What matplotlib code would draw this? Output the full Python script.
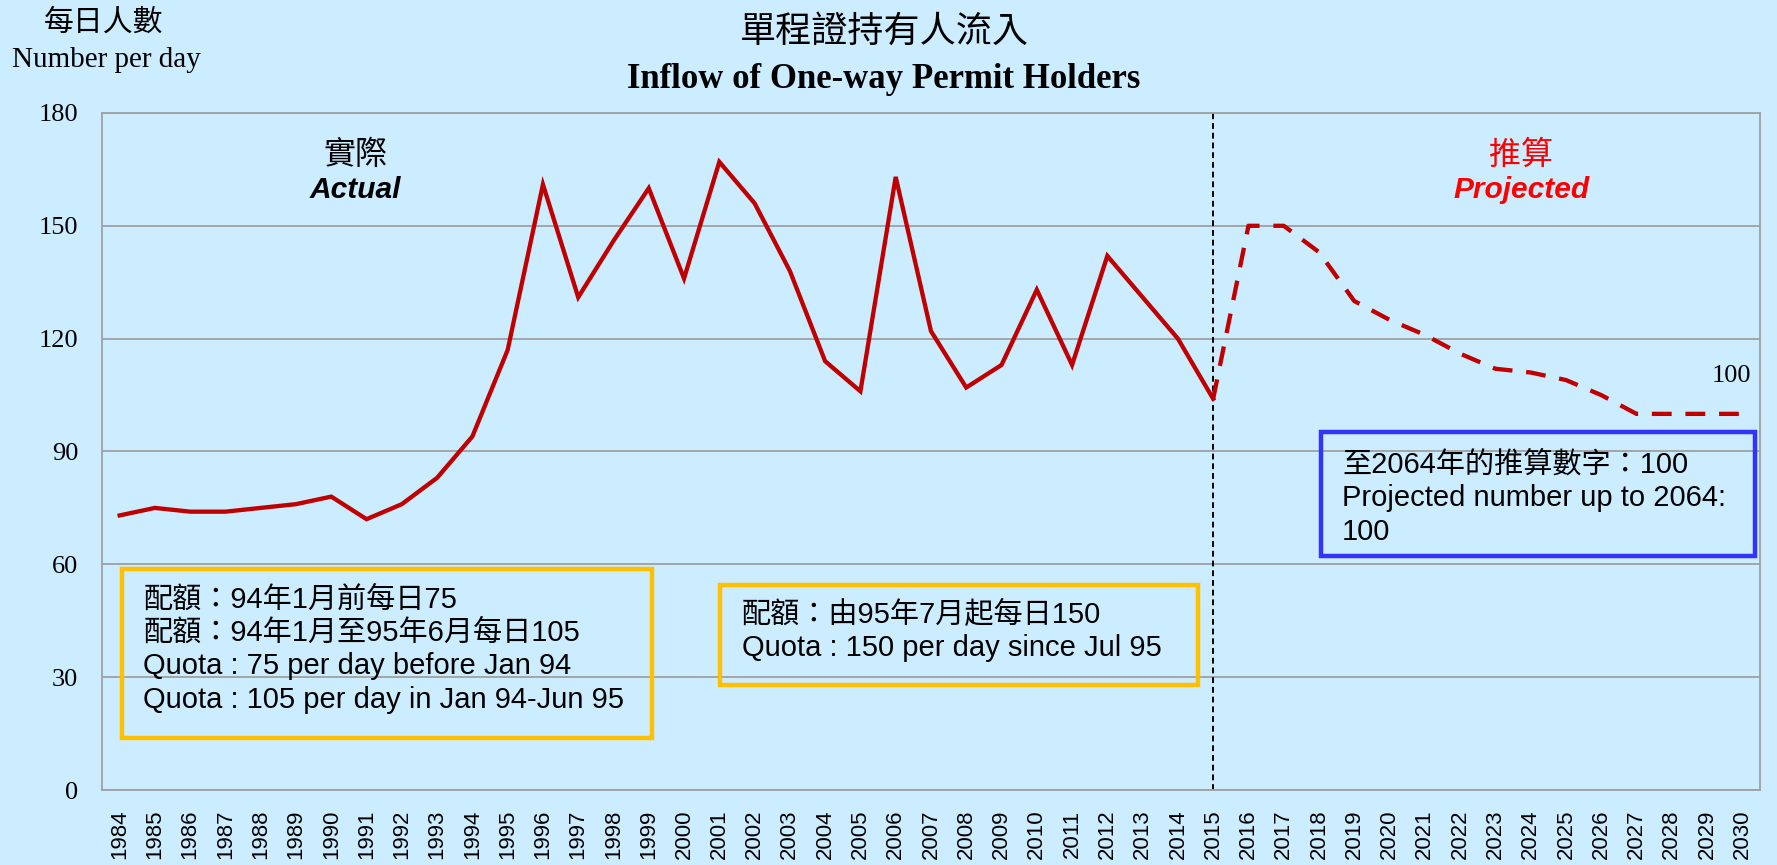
import matplotlib
matplotlib.use("Agg")
import matplotlib.pyplot as plt
from matplotlib.patches import Rectangle

# datos
anios = [str(a) for a in range(1984, 2031)]
actual = [73, 75, 74, 74, 75, 76, 78, 72, 76, 83, 94, 117, 161, 131, 146, 160,
          136, 167, 156, 138, 114, 106, 163, 122, 107, 113, 133, 113, 142, 131,
          120, 104]
proyectado = [104, 150, 150, 143, 130, 125, 121, 116, 112, 111, 109, 105,
              100, 100, 100, 100]
y_ticks = [0, 30, 60, 90, 120, 150, 180]

FONDO = "#CCECFF"
ROJO = "#C00000"
SERIF = ["Liberation Serif", "Noto Sans CJK TC"]
SANS = ["Liberation Sans", "Noto Sans CJK TC"]
CJK = ["Noto Sans CJK TC", "Liberation Sans"]

fig = plt.figure(figsize=(17.77, 8.65), dpi=100, facecolor=FONDO)
ax = fig.add_axes([0.0574, 0.0867, 0.9330, 0.7827])
ax.set_facecolor(FONDO)

x_act = list(range(len(actual)))
i0 = len(actual) - 1
x_proj = list(range(i0, i0 + len(proyectado)))

ax.plot(x_act, actual, color=ROJO, lw=3.1, solid_joinstyle="miter", zorder=3)
ax.plot(x_proj, proyectado, color=ROJO, lw=3.1, dashes=(4.6, 3.2), zorder=3)
ax.axvline(i0, color="black", lw=1.4, dashes=(3, 2), zorder=2)

ax.set_xlim(-0.5, len(anios) - 0.5)
ax.set_ylim(0, 180)
ax.set_yticks(y_ticks)
ax.set_yticklabels([str(v) for v in y_ticks], family=SERIF, fontsize=19)
ax.set_xticks(range(len(anios)))
ax.set_xticklabels(anios, rotation=90, family=SANS, fontsize=16)
ax.tick_params(length=0)
ax.tick_params(axis="y", pad=17)
ax.tick_params(axis="x", pad=14)
ax.grid(axis="y", color="#A0A0A0", lw=1.3)
ax.set_axisbelow(True)
for s in ax.spines.values():
    s.set_color("#A0A0A0")
    s.set_linewidth(1.3)

# titulos
fig.text(0.4975, 0.963, "單程證持有人流入", family=CJK, fontsize=26,
         ha="center", va="center")
fig.text(0.4975, 0.908, "Inflow of One-way Permit Holders", family=SERIF,
         fontsize=25, fontweight="bold", ha="center", va="center")
fig.text(0.0585, 0.974, "每日人數", family=CJK, fontsize=21.5, ha="center", va="center")
fig.text(0.0599, 0.931, "Number per day", family=SERIF, fontsize=21,
         ha="center", va="center")

# etiquetas de zona
ax.text(0.153, 0.938, "實際", transform=ax.transAxes, family=CJK, fontsize=23,
        style="italic", ha="center", va="center")
ax.text(0.153, 0.886, "Actual", transform=ax.transAxes, family=SANS, fontsize=21.5,
        style="italic", fontweight="bold", ha="center", va="center")
ax.text(0.856, 0.938, "推算", transform=ax.transAxes, family=CJK, fontsize=23,
        style="italic", color="red", ha="center", va="center")
ax.text(0.856, 0.886, "Projected", transform=ax.transAxes, family=SANS,
        fontsize=21.5, style="italic", fontweight="bold", color="red",
        ha="center", va="center")
ax.text(x_proj[-1] - 0.3, proyectado[-1] + 10, str(proyectado[-1]),
        family=SERIF, fontsize=19, ha="center", va="center")

# cajas de anotacion
cajas = [
    ((0.012, 0.077), 0.320, 0.249, "#FFC000"),
    ((0.373, 0.155), 0.288, 0.148, "#FFC000"),
    ((0.735, 0.346), 0.262, 0.183, "#3333FF"),
]
for (x0, y0), w, h, c in cajas:
    ax.add_patch(Rectangle((x0, y0), w, h, transform=ax.transAxes, fill=False,
                           edgecolor=c, lw=3.2, zorder=4, clip_on=False))

ax.text(0.025, 0.207,
        "配額：94年1月前每日75\n配額：94年1月至95年6月每日105\n"
        "Quota : 75 per day before Jan 94\nQuota : 105 per day in Jan 94-Jun 95",
        transform=ax.transAxes, family=SANS, fontsize=21, linespacing=1.24,
        ha="left", va="center", zorder=5)
ax.text(0.386, 0.234, "配額：由95年7月起每日150\nQuota : 150 per day since Jul 95",
        transform=ax.transAxes, family=SANS, fontsize=21, linespacing=1.24,
        ha="left", va="center", zorder=5)
ax.text(0.748, 0.431, "至2064年的推算數字：100\nProjected number up to 2064:\n100",
        transform=ax.transAxes, family=SANS, fontsize=21, linespacing=1.26,
        ha="left", va="center", zorder=5)

fig.savefig("out.png", dpi=100, facecolor=FONDO)
